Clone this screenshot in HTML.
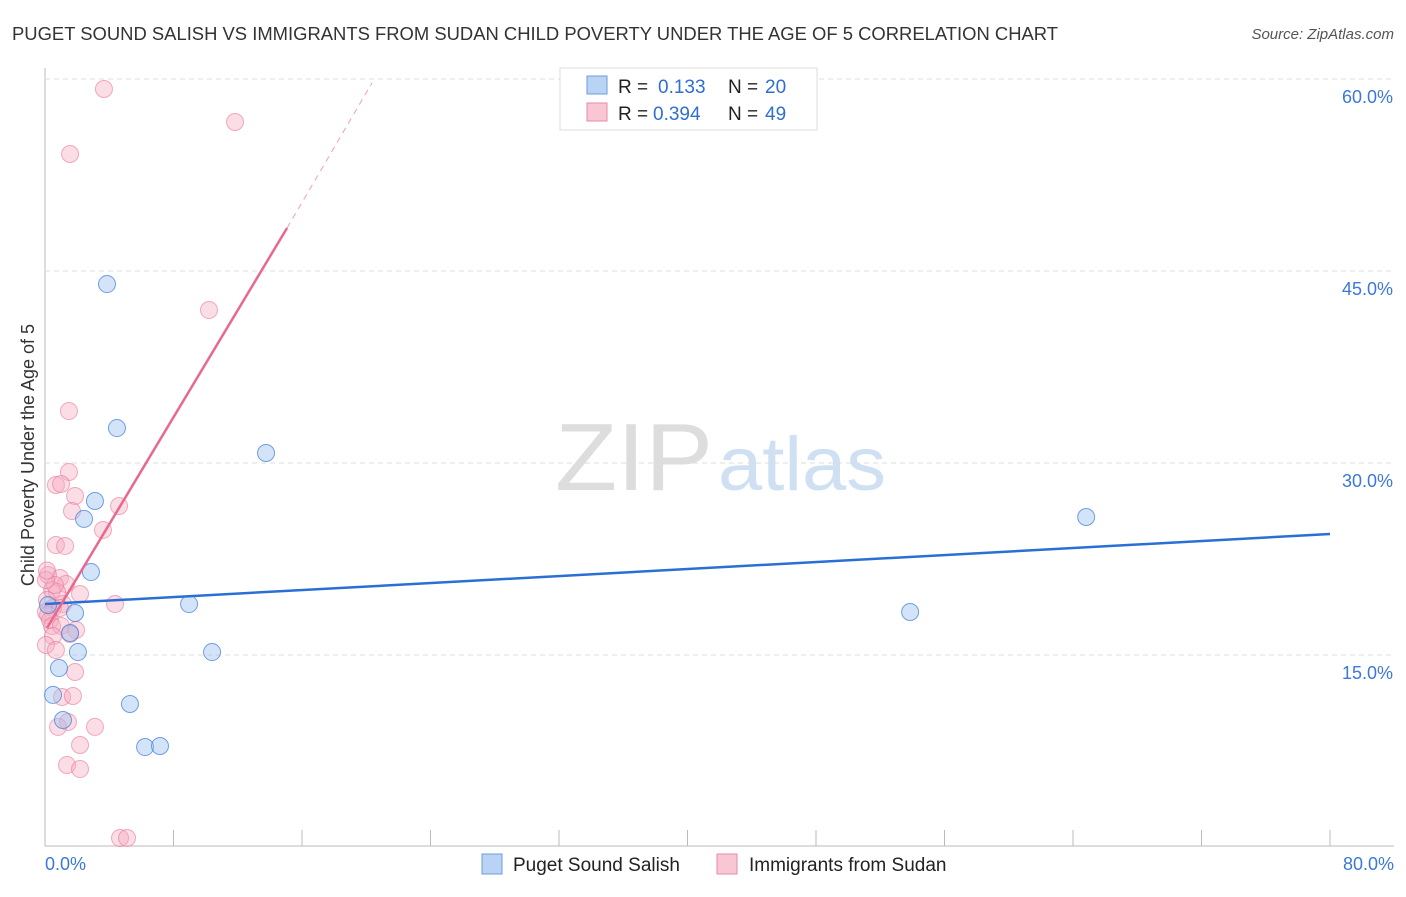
<!DOCTYPE html>
<html><head><meta charset="utf-8"><style>
body{margin:0;background:#fff;font-family:"Liberation Sans",sans-serif;}
svg text{font-family:"Liberation Sans",sans-serif;}
</style></head><body>
<svg id="c" width="1406" height="892" xmlns="http://www.w3.org/2000/svg">
<text x="12" y="40" font-size="18" fill="#333" textLength="1046" lengthAdjust="spacingAndGlyphs">PUGET SOUND SALISH VS IMMIGRANTS FROM SUDAN CHILD POVERTY UNDER THE AGE OF 5 CORRELATION CHART</text>
<text x="1394" y="39" font-size="15" fill="#555" font-style="italic" text-anchor="end">Source: ZipAtlas.com</text>
<text x="555" y="490" font-size="96" fill="#ddd" font-family="Liberation Serif" textLength="158" lengthAdjust="spacingAndGlyphs">ZIP</text>
<text x="718" y="490" font-size="76" fill="#cfe0f3" textLength="168" lengthAdjust="spacingAndGlyphs">atlas</text>
<text transform="translate(34,455) rotate(-90)" font-size="18" fill="#333" text-anchor="middle">Child Poverty Under the Age of 5</text>
<g id="grid"></g><g id="marks"></g>
<g>
<rect x="560" y="68" width="257" height="62" fill="#fff" stroke="#ddd"/>
<rect x="587" y="76" width="20" height="18" fill="#b9d3f5" stroke="#6a9de0"/>
<text x="618" y="93" font-size="19" fill="#222">R =</text>
<text x="658" y="93" font-size="19" fill="#2f6fd0">0.133</text>
<text x="728" y="93" font-size="19" fill="#222">N =</text>
<text x="765" y="93" font-size="19" fill="#2f6fd0">20</text>
<rect x="587" y="103" width="20" height="18" fill="#f9c6d4" stroke="#e88aa6"/>
<text x="618" y="120" font-size="19" fill="#222">R =</text>
<text x="653" y="120" font-size="19" fill="#2f6fd0">0.394</text>
<text x="728" y="120" font-size="19" fill="#222">N =</text>
<text x="765" y="120" font-size="19" fill="#2f6fd0">49</text>
</g>
<g>
<rect x="482" y="854" width="20" height="20" fill="#b9d3f5" stroke="#6a9de0"/>
<text x="513" y="871" font-size="19" fill="#222">Puget Sound Salish</text>
<rect x="717" y="854" width="20" height="20" fill="#f9c6d4" stroke="#e88aa6"/>
<text x="749" y="871" font-size="19" fill="#222">Immigrants from Sudan</text>
</g>
</svg>
<script>
const blueX=[3.86,4.48,13.76,3.11,2.43,2.86,8.97,1.87,1.56,2.05,10.40,0.87,0.50,5.29,1.12,6.23,7.16,64.82,53.86,0.19];
const blueY=[43.98,32.73,30.78,27.03,25.63,21.48,18.98,18.28,16.72,15.23,15.23,13.98,11.88,11.17,9.92,7.81,7.89,25.78,18.36,18.9];
const pinkX=[3.67,11.83,1.56,10.21,1.49,1.49,0.68,1.0,1.87,1.68,4.61,3.61,0.68,1.25,0.19,0.93,1.31,0.44,0.75,2.18,0.12,1.12,4.36,0.5,0.06,0.93,0.19,0.31,0.44,1.0,1.93,1.56,0.5,0.06,0.68,1.87,1.06,1.74,1.43,0.81,3.11,2.18,1.37,2.18,4.67,5.11,0.62,0.06,0.12];
const pinkY=[59.22,56.64,54.14,41.95,34.06,29.3,28.28,28.36,27.42,26.25,26.64,24.77,23.59,23.52,21.25,21.02,20.55,20.08,19.92,19.77,19.3,18.98,18.98,18.67,18.36,18.67,18.13,17.73,17.27,17.27,16.95,16.64,16.48,15.78,15.39,13.67,11.72,11.8,9.77,9.38,9.38,7.97,6.41,6.09,0.7,0.7,20.47,20.86,21.6];
const blueTrend=[0,18.98,80,24.45];
const pinkTrend=[0.12,17.1,15.07,48.36,20.36,59.7];
const yTicks=[15,30,45,60];
const xTicks=[0,8,16,24,32,40,48,56,64,72,80];
const NS='http://www.w3.org/2000/svg';
const sx=v=>45+v*16.0625, sy=v=>847-v*12.8;
function mk(p,t,a){const e=document.createElementNS(NS,t);for(const k in a)e.setAttribute(k,a[k]);p.appendChild(e);return e;}
const g=document.getElementById('grid'),m=document.getElementById('marks');
mk(g,'line',{x1:45,y1:68,x2:45,y2:846,stroke:'#bbb'});
mk(g,'line',{x1:45,y1:846,x2:1394,y2:846,stroke:'#bbb'});
yTicks.forEach(t=>{
 const l=mk(g,'line',{x1:45,y1:sy(t),x2:1394,y2:sy(t),stroke:'#ddd','stroke-dasharray':'5,4'});
 
 
 const tx=mk(g,'text',{x:1393,y:sy(t)+24,'font-size':18,fill:'#3b78d8','text-anchor':'end'});
 tx.textContent=t.toFixed(1)+'%';
 
 
});
xTicks.forEach(t=>{
 const l=mk(g,'line',{x1:sx(t),y1:830,x2:sx(t),y2:846,stroke:'#bbb'});
 
 
});
[[0,'start',45],[80,'end',1394]].forEach(([v,a,x])=>{
 const tx=mk(g,'text',{x:x,y:870,'font-size':18,fill:'#3b78d8','text-anchor':a});
 tx.textContent=v.toFixed(1)+'%';
 
 
});
pinkX.forEach((x,i)=>{
 const c=mk(m,'circle',{cx:sx(x),cy:sy(pinkY[i]),r:8.5,fill:'rgba(246,170,192,0.4)',stroke:'rgba(232,120,155,0.6)'});
 
 
});
blueX.forEach((x,i)=>{
 const c=mk(m,'circle',{cx:sx(x),cy:sy(blueY[i]),r:8.5,fill:'rgba(160,195,240,0.45)',stroke:'rgba(70,130,215,0.75)'});
 
 
});
const bl=mk(m,'line',{x1:sx(blueTrend[0]),y1:sy(blueTrend[1]),x2:sx(blueTrend[2]),y2:sy(blueTrend[3]),stroke:'#2a6fd6','stroke-width':2.5});


const pl=mk(m,'line',{x1:sx(pinkTrend[0]),y1:sy(pinkTrend[1]),x2:sx(pinkTrend[2]),y2:sy(pinkTrend[3]),stroke:'#e8688f','stroke-width':2.5});


const pd=mk(m,'line',{x1:sx(pinkTrend[2]),y1:sy(pinkTrend[3]),x2:sx(pinkTrend[4]),y2:sy(pinkTrend[5]),stroke:'#f0a0b8','stroke-width':1,'stroke-dasharray':'6,5'});


</script>
</body></html>
